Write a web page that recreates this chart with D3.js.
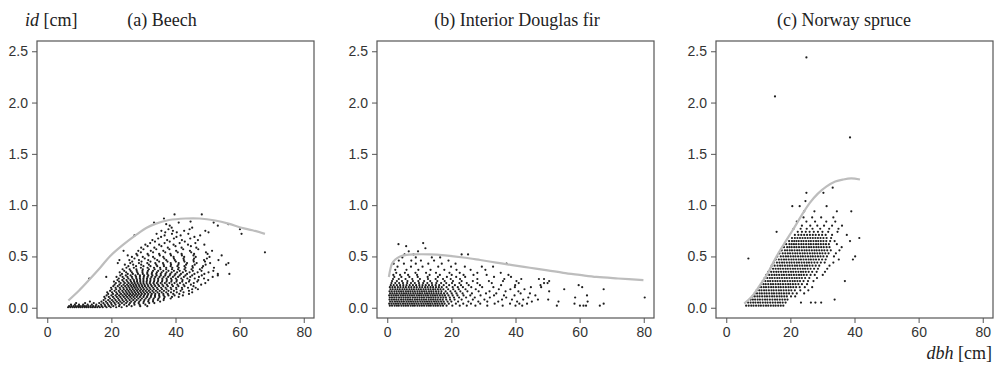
<!DOCTYPE html>
<html>
<head>
<meta charset="utf-8">
<script src="https://cdn.jsdelivr.net/npm/d3@7"></script>
<style>
  body { margin: 0; background: #fff; }
  .tick text { font-family: "Liberation Sans", Arial, sans-serif; font-size: 14px; fill: #333; }
  .tick line { stroke: #555; }
  .serif { font-family: "Liberation Serif", "DejaVu Serif", serif; font-size: 18px; fill: #222; }
</style>
</head>
<body>
<svg id="chart"></svg>
<script>
const size = { w: 995, h: 373 };
const panelLeft = [37, 377, 716];
const panel = { t: 41, w: 277, h: 277 };

const xTicks = [0, 20, 40, 60, 80];
const yTicks = [0, 0.5, 1, 1.5, 2, 2.5];
const titles = ["(a) Beech", "(b) Interior Douglas fir", "(c) Norway spruce"];
const titleX = [162, 517, 844];

// fitted curves [dbh, id]
const beechCurve = [[6.6,0.07],[10,0.17],[13.3,0.28],[16.5,0.39],[19.5,0.5],[23.5,0.61],[27.7,0.71],[31,0.78],[33.9,0.82],[38,0.855],[43.1,0.87],[47.5,0.87],[52.4,0.85],[56.5,0.82],[60.6,0.78],[64,0.755],[67.9,0.72]];
const firCurve = [[0.5,0.30],[1,0.38],[1.5,0.43],[2.5,0.47],[4,0.5],[6,0.515],[8.2,0.52],[13.3,0.52],[18,0.51],[23.7,0.49],[29,0.465],[34,0.44],[39,0.415],[44.5,0.39],[50,0.365],[54.9,0.34],[60,0.32],[65.3,0.30],[72,0.285],[79.9,0.27]];
const spruceCurve = [[5.6,0.04],[8,0.11],[10.3,0.21],[13,0.34],[15.5,0.49],[18,0.62],[20.8,0.76],[23.5,0.9],[26,1.02],[28.5,1.11],[31.2,1.18],[34,1.23],[36.5,1.25],[39,1.26],[41.7,1.25]];

// observations, grouped by id value: [id, [dbh, ...]]
const beechRows = [
  [0.005, [6.5,7.2,7.9,8.5,9.1,9.8,10.4,11.0,11.7,12.3,12.9,13.6,14.2,14.9,15.6,16.4,17.3,18.5,19.8,21.5,23.2]],
  [0.015, [6.8,7.5,8.2,8.9,9.6,10.2,10.9,11.5,12.1,12.8,13.5,14.3,15.1,16.0,17.0,18.1,19.3,20.6,22.4,24.8,26.3,29.0,31.2]],
  [0.03, [7.4,8.6,9.9,11.2,12.6,13.9,15.3,16.8,17.9,19.0,20.1,21.3,22.6,24.0,25.5,27.2,28.8,30.6]],
  [0.045, [9.0,11.8,14.5,16.2,17.5,18.7,19.9,21.0,22.2,23.3,24.6,25.8,27.1,28.5,30.0,31.8,33.4]],
  [0.06, [13.3,16.9,18.3,19.5,20.6,21.7,22.8,23.9,25.0,26.2,27.4,28.7,30.1,31.5,33.0,35.2]],
  [0.075, [17.6,19.0,20.2,21.3,22.4,23.5,24.6,25.7,26.8,27.9,29.1,30.3,31.6,33.0,34.5,36.3]],
  [0.09, [18.1,19.6,20.9,22.1,23.2,24.3,25.3,26.3,27.3,28.4,29.5,30.7,31.9,33.2,34.7,36.4,38.5]],
  [0.105, [17.8,19.2,20.5,21.7,22.8,23.9,24.9,25.9,26.9,27.9,28.9,30.0,31.1,32.3,33.6,35.0,36.6,38.9,41.0]],
  [0.12, [18.5,20.0,21.3,22.4,23.5,24.5,25.5,26.4,27.3,28.2,29.2,30.2,31.3,32.4,33.6,34.9,36.3,37.8,39.7,42.3]],
  [0.135, [19.0,20.5,21.8,23.0,24.1,25.0,25.9,26.8,27.7,28.6,29.5,30.5,31.5,32.6,33.7,34.9,36.2,37.6,39.3,41.2,44.2]],
  [0.15, [18.7,20.2,21.5,22.6,23.7,24.7,25.6,26.5,27.4,28.3,29.2,30.1,31.1,32.1,33.2,34.4,35.7,37.1,38.6,40.4,42.5,45.2]],
  [0.165, [19.6,21.0,22.3,23.4,24.4,25.3,26.2,27.1,28.0,28.9,29.8,30.7,31.7,32.8,33.9,35.1,36.4,37.8,39.5,41.6,44.2]],
  [0.18, [20.1,21.5,22.8,23.9,24.9,25.8,26.7,27.6,28.4,29.3,30.2,31.2,32.2,33.3,34.5,35.8,37.2,38.7,40.3,42.1,45.2,47.0]],
  [0.195, [19.9,21.3,22.6,23.7,24.7,25.6,26.5,27.3,28.1,29.0,29.9,30.9,31.9,33.0,34.2,35.5,36.9,38.5,40.2,42.0,43.9,46.3]],
  [0.21, [20.6,22.0,23.2,24.3,25.3,26.2,27.0,27.8,28.7,29.6,30.5,31.5,32.6,33.7,34.9,36.2,37.6,39.2,40.9,42.8,45.6]],
  [0.225, [21.0,22.5,23.8,24.9,25.9,26.8,27.6,28.5,29.4,30.3,31.3,32.3,33.4,34.6,35.9,37.3,38.9,40.6,42.5,44.8,48.0]],
  [0.24, [21.4,22.9,24.2,25.4,26.4,27.3,28.2,29.1,30.0,31.0,32.0,33.1,34.2,35.4,36.7,38.1,39.7,41.4,43.3,45.7,49.3]],
  [0.255, [20.8,22.4,23.8,25.0,26.1,27.1,28.0,29.0,30.0,31.0,32.1,33.3,34.5,35.8,37.2,38.7,40.3,42.1,44.2,46.8]],
  [0.27, [21.9,23.4,24.7,25.9,27.0,28.0,29.0,30.0,31.1,32.2,33.4,34.6,35.9,37.3,38.8,40.4,42.2,44.4,47.1,50.2]],
  [0.285, [13.1,22.3,23.9,25.3,26.6,27.8,28.9,30.0,31.1,32.2,33.4,34.6,35.9,37.2,38.6,40.1,41.8,43.7,46.0,48.9]],
  [0.30, [18.4,21.6,23.5,25.0,26.4,27.7,28.9,30.1,31.3,32.5,33.7,35.0,36.3,37.7,39.2,40.8,42.6,44.6,47.3,51.6]],
  [0.315, [22.8,24.5,26.0,27.5,28.9,30.2,31.5,32.8,34.1,35.4,36.8,38.2,39.7,41.3,43.1,45.2,48.2,53.2]],
  [0.33, [23.3,25.1,26.7,28.3,29.8,31.2,32.6,34.0,35.4,36.9,38.4,40.0,41.7,43.6,45.9,49.0,53.2,56.8]],
  [0.345, [22.6,24.6,26.4,28.1,29.7,31.2,32.7,34.2,35.7,37.2,38.8,40.5,42.3,44.4,46.9,50.3]],
  [0.36, [24.0,26.0,27.9,29.7,31.4,33.0,34.6,36.2,37.8,39.5,41.3,43.2,45.4,48.1,51.8]],
  [0.375, [23.5,25.7,27.8,29.8,31.7,33.5,35.3,37.1,38.9,40.8,42.8,45.0,47.6]],
  [0.39, [24.7,27.0,29.2,31.3,33.3,35.2,37.1,39.0,41.0,43.1,45.4,48.3,52.0]],
  [0.405, [25.3,27.7,30.0,32.2,34.3,36.4,38.5,40.6,42.8,45.3,48.6]],
  [0.42, [24.2,26.8,29.3,31.7,34.0,36.3,38.6,40.9,43.3,46.0,49.4,55.8]],
  [0.435, [22.0,25.9,28.6,31.2,33.7,36.1,38.5,41.0,43.6,46.6,50.8,56.5]],
  [0.45, [26.5,29.4,32.2,34.9,37.5,40.1,42.8,45.7,49.2]],
  [0.465, [22.5,25.6,28.6,31.5,34.3,37.1,39.8,42.6,45.6,48.9,53.4]],
  [0.48, [27.2,30.4,33.5,36.5,39.5,42.5,45.8,49.8]],
  [0.495, [26.4,29.8,33.0,36.2,39.4,42.7,46.3,50.6]],
  [0.51, [25.1,28.1,31.6,35.1,38.6,42.0,45.6,54.4]],
  [0.525, [27.8,31.3,34.9,38.4,41.9,45.8,50.0]],
  [0.54, [29.2,33.0,36.8,40.7,44.9,49.5,67.9]],
  [0.555, [23.8,28.4,32.3,36.2,40.2,44.5,51.4]],
  [0.57, [30.0,34.0,38.1,42.4,47.1]],
  [0.585, [29.3,33.4,37.6,41.9,46.5]],
  [0.60, [31.3,35.6,40.0,44.8]],
  [0.615, [30.6,34.9,39.4,43.9,49.0]],
  [0.63, [32.1,36.6,41.3,46.2]],
  [0.645, [33.6,38.2,42.9]],
  [0.66, [32.8,37.4,42.0,47.0]],
  [0.675, [34.6,39.5,44.6]],
  [0.69, [35.5,40.3,45.9]],
  [0.705, [27.2,36.6,41.6,47.7]],
  [0.72, [34.1,38.9,44.0,60.6]],
  [0.735, [36.8,40.4,50.3]],
  [0.75, [35.6,39.2,42.7,49.3]],
  [0.765, [37.8,44.4,60.1]],
  [0.78, [38.8,45.2]],
  [0.80, [38.2,53.2]],
  [0.815, [37.1,56.5]],
  [0.83, [33.3,41.0,51.9]],
  [0.84, [44.7]],
  [0.87, [36.4]],
  [0.91, [39.7,48.2]]
];

const firRows = [
  [0.02, [0.8,1.5,2.3,3.0,3.6,4.4,5.1,5.8,6.5,7.3,8.0,8.6,9.4,10.1,10.8,11.5,12.3,13.0,13.6,14.4,15.1,15.8,16.6,17.4,18.5,20.3,22.6,24.8,27.5,31.2,36.0,40.0,42.1,52.9,60.1,61.2,62.0,66.3]],
  [0.04, [0.6,1.3,2.0,2.7,3.4,4.1,4.9,5.6,6.3,7.0,7.7,8.4,9.1,9.8,10.6,11.3,12.0,12.7,13.4,14.1,14.9,15.6,16.3,17.1,17.9,19.2,21.4,23.7,26.1,29.0,33.5,38.3,41.2,43.6,58.4,67.5]],
  [0.06, [0.9,1.6,2.4,3.1,3.8,4.5,5.2,6.0,6.7,7.4,8.1,8.8,9.5,10.3,11.0,11.7,12.4,13.1,13.8,14.6,15.3,16.0,16.8,17.6,18.8,20.0,22.1,25.3,28.4,31.2,34.6,40.5,45.1,53.4,62.5]],
  [0.08, [0.7,1.4,2.1,2.8,3.5,4.3,5.0,5.7,6.4,7.1,7.8,8.6,9.3,10.0,10.7,11.4,12.1,12.9,13.6,14.3,15.0,15.7,16.5,17.3,18.4,19.6,21.0,23.2,26.7,30.3,35.8,38.9,42.4,47.0,50.2]],
  [0.10, [0.8,1.5,2.2,2.9,3.7,4.4,5.1,5.8,6.5,7.2,8.0,8.7,9.4,10.1,10.8,11.5,12.3,13.0,13.7,14.4,15.1,15.9,16.7,17.5,18.3,19.5,20.8,22.4,24.6,27.3,32.0,37.1,44.0,58.6,80.3]],
  [0.12, [0.6,1.3,2.0,2.7,3.4,4.2,4.9,5.6,6.3,7.0,7.7,8.4,9.2,9.9,10.6,11.3,12.0,12.7,13.5,14.2,14.9,15.6,16.4,17.2,18.0,19.1,20.4,21.9,23.8,25.9,29.1,33.3,36.4,39.7,46.2,62.3]],
  [0.14, [0.9,1.6,2.3,3.0,3.8,4.5,5.2,5.9,6.6,7.3,8.1,8.8,9.5,10.2,10.9,11.7,12.4,13.1,13.8,14.5,15.3,16.0,16.8,17.7,18.7,20.1,21.6,23.5,26.4,30.8,34.0,41.6,44.5]],
  [0.16, [0.7,1.4,2.2,2.9,3.6,4.3,5.0,5.8,6.5,7.2,7.9,8.6,9.4,10.1,10.8,11.5,12.2,13.0,13.7,14.4,15.2,16.0,16.9,18.2,19.7,21.2,22.8,25.0,28.5,31.9,36.9,40.9,50.5]],
  [0.18, [1.0,1.7,2.5,3.2,3.9,4.7,5.4,6.1,6.9,7.6,8.3,9.1,9.8,10.5,11.3,12.0,12.8,13.5,14.3,15.0,15.8,16.6,17.5,19.0,20.6,22.3,24.4,27.6,34.8,38.4,42.8,55.2,67.5]],
  [0.20, [0.8,1.6,2.4,3.3,4.1,5.0,5.8,6.7,7.5,8.4,9.2,10.1,10.9,11.8,12.6,13.5,14.3,15.2,16.1,17.0,18.5,20.4,22.0,23.6,26.2,29.6,33.1,39.8,44.8,48.0,60.8]],
  [0.22, [1.1,2.0,3.0,4.0,5.0,6.0,7.0,8.0,9.0,10.0,11.0,12.0,13.0,14.0,15.1,16.2,17.6,19.3,21.1,23.0,25.4,28.9,35.5,39.9,47.8,59.7]],
  [0.24, [1.3,2.5,3.7,4.9,6.2,7.4,8.6,9.9,11.2,12.5,13.9,15.3,16.8,18.4,20.2,22.5,24.8,28.1,32.6,41.0,48.9,50.0]],
  [0.26, [1.5,3.0,4.6,6.3,8.0,9.7,11.5,13.4,15.6,17.9,20.5,23.2,26.7,31.7,36.1,40.3,50.5]],
  [0.28, [1.8,3.6,5.7,7.8,10.2,12.7,15.1,17.4,19.8,22.7,28.1,36.5,41.8,47.3,48.9]],
  [0.30, [2.2,4.4,6.9,9.5,12.6,15.8,18.6,21.5,24.3,33.3,38.6]],
  [0.32, [1.9,4.0,6.5,9.3,13.2,16.4,20.1,23.8,26.9,31.0,37.8]],
  [0.34, [2.8,5.5,8.8,12.1,15.2,19.4,22.6,28.1,35.4]],
  [0.37, [2.5,6.0,9.7,13.5,17.8,21.6,26.0,30.6]],
  [0.40, [3.2,7.4,11.0,15.9,19.9,24.2,29.5,33.0]],
  [0.43, [2.0,5.2,8.9,12.8,17.0,21.3,37.2]],
  [0.46, [3.6,7.5,10.5,14.6,19.1]],
  [0.49, [4.7,8.9,13.9,16.5]],
  [0.52, [5.4,8.2,23.2,25.2]],
  [0.55, [6.7,9.6]],
  [0.58, [11.9]],
  [0.60, [5.9]],
  [0.62, [3.5]],
  [0.63, [11.2]]
];

const spruceRows = [
  [0.02, [6.2,7.0,7.8,8.5,9.3,10.1,10.8,11.6,12.4,13.1,13.9,14.7,15.4,16.2,17.0,17.8]],
  [0.05, [6.8,7.6,8.4,9.1,9.9,10.6,11.4,12.2,12.9,13.7,14.5,15.3,16.1,16.8,17.6,18.5,23.3,26.4,27.8,29.6]],
  [0.08, [7.6,8.3,9.0,9.8,10.5,11.3,12.1,12.8,13.6,14.4,15.2,15.9,16.7,17.5,18.3,19.1,33.8]],
  [0.11, [8.2,8.9,9.7,10.4,11.2,12.0,12.7,13.5,14.3,15.0,15.8,16.6,17.3,18.1,18.9,20.2,21.5]],
  [0.14, [8.9,9.6,10.4,11.1,11.9,12.6,13.4,14.2,14.9,15.7,16.5,17.2,18.0,18.8,19.6,20.7,22.0,24.3]],
  [0.17, [9.5,10.3,11.0,11.8,12.5,13.3,14.1,14.8,15.6,16.4,17.1,17.9,18.7,19.5,20.3,21.4,23.1,25.6]],
  [0.20, [10.2,10.9,11.7,12.4,13.2,14.0,14.7,15.5,16.3,17.0,17.8,18.6,19.4,20.1,20.9,21.8,22.9,24.5,26.8]],
  [0.23, [10.8,11.6,12.3,13.1,13.9,14.6,15.4,16.2,16.9,17.7,18.5,19.3,20.0,20.8,21.6,22.5,23.6,25.2]],
  [0.26, [11.4,12.2,13.0,13.7,14.5,15.3,16.0,16.8,17.6,18.3,19.1,19.9,20.7,21.4,22.2,23.0,24.1,25.5,27.2,37.0]],
  [0.29, [12.0,12.8,13.6,14.3,15.1,15.9,16.6,17.4,18.2,18.9,19.7,20.5,21.3,22.0,22.8,23.6,24.6,25.9,28.3]],
  [0.32, [12.5,13.4,14.2,15.0,15.7,16.5,17.3,18.0,18.8,19.6,20.3,21.1,21.9,22.7,23.4,24.2,25.1,26.3,27.6,30.1]],
  [0.35, [13.1,14.0,14.8,15.6,16.3,17.1,17.9,18.6,19.4,20.2,20.9,21.7,22.5,23.3,24.0,24.8,25.7,26.8,28.2,30.8]],
  [0.38, [13.7,14.6,15.4,16.2,16.9,17.7,18.5,19.2,20.0,20.8,21.5,22.3,23.1,23.9,24.6,25.4,26.3,27.4,28.6,31.5]],
  [0.41, [14.2,15.1,16.0,16.8,17.5,18.3,19.1,19.8,20.6,21.4,22.1,22.9,23.7,24.5,25.2,26.0,26.9,27.9,29.0,32.2]],
  [0.44, [14.8,15.8,16.6,17.4,18.1,18.9,19.7,20.4,21.2,22.0,22.7,23.5,24.3,25.1,25.8,26.6,27.5,28.4,29.5,30.7,33.4]],
  [0.47, [15.4,16.4,17.2,18.0,18.7,19.5,20.3,21.0,21.8,22.6,23.3,24.1,24.9,25.7,26.4,27.2,28.0,28.9,29.9,31.0,35.1,39.5]],
  [0.50, [15.9,17.0,17.8,18.6,19.3,20.1,20.9,21.6,22.4,23.2,23.9,24.7,25.5,26.3,27.0,27.8,28.6,29.4,30.3,31.4,33.6,40.2]],
  [0.53, [16.6,17.6,18.4,19.2,19.9,20.7,21.5,22.2,23.0,23.8,24.5,25.3,26.1,26.9,27.6,28.4,29.2,30.0,30.9,31.9,34.2]],
  [0.56, [17.3,18.3,19.0,19.8,20.5,21.3,22.1,22.8,23.6,24.4,25.1,25.9,26.7,27.5,28.2,29.0,29.8,30.6,31.5,32.6,35.3]],
  [0.59, [18.0,19.0,19.7,20.4,21.2,21.9,22.7,23.5,24.2,25.0,25.8,26.5,27.3,28.1,28.8,29.6,30.4,31.3,32.2,36.0]],
  [0.62, [18.7,19.7,20.4,21.1,21.8,22.6,23.4,24.1,24.9,25.7,26.4,27.2,28.0,28.7,29.5,30.3,31.1,32.0,34.5]],
  [0.65, [19.6,20.5,21.2,21.9,22.6,23.4,24.1,24.9,25.7,26.4,27.2,28.0,28.7,29.5,30.3,31.2,32.4,33.8,38.6]],
  [0.68, [20.5,21.4,22.2,23.0,23.8,24.6,25.4,26.2,27.0,27.8,28.6,29.4,30.3,31.3,32.7,41.5]],
  [0.71, [21.4,22.5,23.4,24.3,25.2,26.1,27.0,27.9,28.9,29.9,31.0,33.0,37.6]],
  [0.74, [22.3,23.6,24.8,26.0,27.3,28.6,30.0,31.8,34.7,15.7]],
  [0.77, [21.0,23.2,25.1,26.9,29.3,32.1,35.0]],
  [0.80, [23.6,26.2,28.4,30.5,33.0,36.1]],
  [0.84, [22.0,25.0,27.7,31.2,34.0]],
  [0.88, [24.1,26.8,29.6,33.4]],
  [0.94, [24.3,27.5,34.5,39.0]],
  [0.99, [20.6,22.9,31.3]],
  [1.04, [24.7]],
  [1.12, [25.0,30.3]],
  [1.17, [33.2]],
  [0.48, [6.9]],
  [1.66, [38.6]],
  [2.06, [15.2]],
  [2.44, [25.0]]
];

const panels = [
  { rows: beechRows, curve: beechCurve },
  { rows: firRows, curve: firCurve },
  { rows: spruceRows, curve: spruceCurve }
];

const svg = d3.select("svg#chart").attr("width", size.w).attr("height", size.h);

panels.forEach((p, i) => {
  const left = panelLeft[i];
  const x = d3.scaleLinear().domain([-3.2, 83.2]).range([left, left + panel.w]);
  const y = d3.scaleLinear().domain([-0.1, 2.6]).range([panel.t + panel.h, panel.t]);
  const g = svg.append("g");

  // points
  const pts = p.rows.flatMap(([id, xs]) => xs.map((d) => [d, id]));
  g.append("g")
    .selectAll("circle")
    .data(pts)
    .join("circle")
    .attr("cx", (d) => x(d[0]))
    .attr("cy", (d) => y(d[1]))
    .attr("r", 1.1)
    .attr("fill", "#1e1e1e");

  // fitted curve
  g.append("path")
    .datum(p.curve)
    .attr("d", d3.line().x((d) => x(d[0])).y((d) => y(d[1])).curve(d3.curveCatmullRom))
    .attr("fill", "none")
    .attr("stroke", "#bdbdbd")
    .attr("stroke-width", 2.2);

  // axes
  g.append("g")
    .attr("transform", `translate(${left},0)`)
    .call(d3.axisLeft(y).tickValues(yTicks).tickFormat(d3.format(".1f")).tickSize(5).tickPadding(4))
    .call((a) => a.select(".domain").remove());
  g.append("g")
    .attr("transform", `translate(0,${panel.t + panel.h})`)
    .call(d3.axisBottom(x).tickValues(xTicks).tickFormat(d3.format("d")).tickSize(5).tickPadding(4))
    .call((a) => a.select(".domain").remove());

  // box
  g.append("rect")
    .attr("x", left)
    .attr("y", panel.t)
    .attr("width", panel.w)
    .attr("height", panel.h)
    .attr("fill", "none")
    .attr("stroke", "#555")
    .attr("stroke-width", 1.2);

  svg.append("text")
    .classed("serif", true)
    .attr("x", titleX[i])
    .attr("y", 26)
    .attr("text-anchor", "middle")
    .text(titles[i]);
});

// axis titles
const yTitle = svg.append("text").classed("serif", true).attr("x", 25).attr("y", 26);
yTitle.append("tspan").attr("font-style", "italic").text("id");
yTitle.append("tspan").text(" [cm]");

const xTitle = svg.append("text").classed("serif", true).attr("x", 992).attr("y", 359).attr("text-anchor", "end");
xTitle.append("tspan").attr("font-style", "italic").text("dbh");
xTitle.append("tspan").text(" [cm]");
</script>
</body>
</html>
